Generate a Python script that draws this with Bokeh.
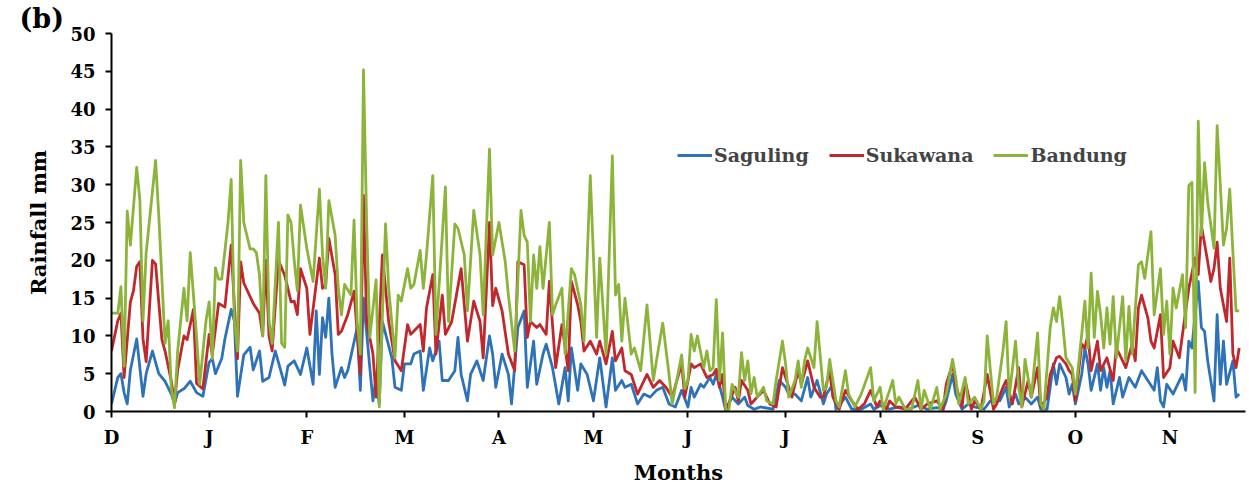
from bokeh.plotting import figure
from bokeh.models import Range1d, Legend, LegendItem, FixedTicker
from bokeh.embed import file_html
from bokeh.resources import INLINE

# ---- data (day index from 1 December, rainfall in mm) ----
bandung_day = [0, 2, 3, 4, 5, 6, 8, 9, 10, 11, 14, 15, 17, 18, 19, 20, 21, 23, 24, 25, 27, 28, 30, 31, 32, 33, 34, 35, 37, 38, 39, 40, 41, 42, 44, 45, 46, 47, 48, 49, 50, 51, 53, 54, 55, 56, 57, 58, 59, 60, 62, 64, 66, 67, 68, 69, 71, 72, 73, 74, 76, 77, 78, 79, 80, 81, 82, 84, 85, 87, 88, 90, 91, 92, 94, 95, 96, 98, 99, 100, 102, 103, 106, 107, 109, 110, 112, 113, 115, 117, 118, 120, 121, 123, 125, 126, 128, 130, 131, 132, 133, 134, 135, 136, 137, 139, 140, 141, 143, 144, 146, 147, 149, 150, 152, 154, 155, 157, 159, 160, 161, 162, 163, 165, 166, 168, 170, 172, 173, 175, 177, 178, 181, 182, 183, 184, 185, 186, 188, 189, 190, 191, 192, 193, 194, 195, 196, 197, 199, 200, 201, 202, 203, 204, 205, 207, 208, 210, 211, 213, 214, 215, 217, 218, 219, 220, 221, 223, 224, 226, 227, 228, 229, 230, 231, 233, 234, 236, 238, 241, 242, 244, 245, 247, 248, 249, 250, 252, 254, 256, 257, 258, 260, 262, 263, 265, 267, 268, 269, 271, 272, 274, 276, 277, 278, 280, 281, 283, 284, 285, 287, 288, 289, 290, 292, 294, 295, 296, 298, 299, 300, 301, 302, 303, 305, 306, 308, 309, 310, 311, 312, 313, 314, 315, 316, 317, 318, 319, 321, 322,
               323, 324, 326, 327, 328, 330, 331, 333, 334, 335, 336, 337, 338, 340, 341, 342, 343, 344, 345, 346, 347, 348, 350, 351, 353, 354, 355, 356, 357, 358]
bandung_mm = [13, 13, 16.5, 6, 26.5, 22, 32.3, 28, 12, 21, 33.2, 26, 9, 12, 3, 0.5, 8, 16.3, 12, 21, 10, 3.6, 12, 14.5, 7, 19, 17.5, 17.5, 25, 30.7, 12, 8, 33.2, 25, 21.5, 21.5, 21, 18, 10, 31.2, 12, 9, 25, 9, 8.5, 26, 25, 20, 16, 27.3, 21.6, 17.2, 29.4, 20.7, 16.3, 27.9, 23.3, 16.3, 12.8, 16.8, 15.4, 25.3, 11.9, 7.6, 45.2, 25, 9.8, 17.4, 0.6, 24.8, 16.3, 7.1, 15.4, 14.6, 18.9, 16.3, 16.8, 21.3, 16.3, 20.7, 31.2, 10.2, 29.7, 11.9, 24.8, 24.2, 20.7, 13.3, 26.6, 20.7, 12.8, 34.7, 20.7, 25, 19.8, 15.4, 8, 26.6, 23.3, 22.4, 11.9, 20.7, 16.3, 21.8, 16.3, 25, 12.8, 14.1, 16.3, 7.6, 18.9, 18.1, 14.1, 9.3, 31.2, 9.8, 20.3, 7.6, 33.8, 15.4, 16.8, 9.3, 15, 7.6, 8.4, 5.4, 14.1, 4.1, 6.7, 11.7, 4.9, 1, 7.5, 3, 4.1, 10.2, 8, 10, 5.8, 8, 5.4, 5.8, 14.8, 4.1, 10.4, 0.1, 0.3, 3.6, 1.9, 7.8, 4.1, 6.7, 2.3, 4.5, 1.9, 3.2, 1.4, 1, 4.1, 9.3, 6.3, 1.9, 4.1, 6.7, 3.2, 6.7, 8.4, 5.8, 11.9, 2.8, 3.2, 6.9, 4.1, 1.4, 0.6, 5.4, 2.3, 0.6, 2.3, 5.8, 1.4, 3.2, 0.3, 2.8, 4.1, 1, 1.9, 0.3, 0.3, 4.1, 0.3, 2.8, 0.3, 3.2, 0.3, 2.3, 6.9, 4.5, 1, 4.5, 1, 1.9, 0.3, 1.4, 10, 1, 1.9, 8, 11.9, 1.9, 9.3, 3.2, 0.6, 6.9, 1.9, 10.4, 1, 0.3, 11.1, 13.7, 11.9, 15.2, 11.5, 7.1, 5.8, 2.3, 10.2, 14.6, 8.4, 18.3, 9.8, 15.9, 12.8, 8.4, 13.7, 8.9, 15.2, 7.1, 15.2, 6.7,
              13.9, 7.6, 19.4, 19.8, 17.6, 23.8, 12.8, 18.9, 10.2, 14.6, 7.6, 16.3, 13.7, 18.1, 11.1, 29.9, 30.3, 2.5, 38.4, 23.3, 32.9, 27.7, 21.6, 37.8, 22, 24.2, 29.4, 21.1, 13.3, 13.3]

sukawana_day = [0, 2, 3, 4, 6, 7, 8, 9, 10, 11, 13, 14, 16, 17, 19, 20, 21, 23, 24, 26, 27, 29, 31, 32, 34, 36, 38, 39, 40, 41, 42, 45, 47, 48, 49, 50, 51, 53, 55, 57, 58, 59, 60, 62, 63, 66, 67, 68, 69, 71, 72, 73, 75, 77, 79, 80, 81, 83, 84, 86, 88, 90, 92, 94, 95, 98, 99, 100, 102, 103, 105, 106, 108, 111, 113, 115, 117, 118, 120, 121, 122, 124, 126, 128, 129, 131, 132, 133, 135, 136, 138, 139, 141, 143, 145, 146, 148, 149, 150, 152, 154, 155, 157, 159, 160, 162, 163, 165, 167, 170, 172, 174, 176, 178, 181, 182, 184, 185, 187, 189, 191, 192, 193, 194, 195, 198, 199, 200, 202, 203, 205, 207, 209, 211, 213, 214, 216, 218, 219, 221, 223, 225, 226, 228, 229, 231, 233, 235, 237, 239, 241, 243, 244, 246, 247, 249, 252, 255, 257, 259, 262, 264, 265, 267, 268, 270, 271, 273, 274, 276, 278, 280, 281, 283, 284, 286, 288, 289, 291, 292, 294, 295, 297, 298, 300, 301, 303, 304, 305, 306, 308, 309, 310, 311, 313, 314, 316, 318, 319, 321, 322,
                324, 325, 326, 327, 329, 330, 331, 333, 334, 336, 337, 339, 340, 342, 344, 345, 346, 348, 349, 350, 351, 352, 354, 355, 356, 357, 358]
sukawana_mm = [8, 12, 13, 4.5, 14.5, 16, 19.2, 19.8, 9.6, 6.6, 20, 19.5, 9.5, 8, 4, 1, 5.5, 10, 9.5, 13.5, 3.7, 3, 10.2, 7.5, 14.3, 13.8, 22, 14, 7, 19.8, 17, 14.3, 13, 10, 20, 10, 8, 20, 18, 14.5, 14.6, 12.8, 18.9, 16.3, 10.2, 20.3, 16.3, 16.8, 22.9, 18.1, 10.2, 10.6, 12.8, 15.9, 4.9, 28.6, 11.9, 7.6, 1.9, 20.7, 11.9, 6.7, 5.4, 11.5, 10.2, 11.5, 8, 13.7, 18.1, 7.6, 15.4, 10.2, 11.9, 18.9, 9.3, 14.6, 11.9, 7.1, 25, 14, 16.3, 13.3, 7.6, 5.4, 19.8, 19.4, 9.8, 11.9, 11.1, 11.5, 10.2, 17.2, 5.8, 11.5, 5.4, 17.2, 14.1, 11.9, 8, 9.3, 7.6, 9.3, 6.3, 10.6, 6.7, 8.4, 5.4, 4.9, 2.3, 4.9, 3.2, 4.1, 3.2, 1.9, 6.3, 1.9, 6.3, 5.8, 6.3, 4.5, 4.9, 5.6, 3.2, 4.9, 0.1, 3.2, 1.4, 4.1, 2.8, 1, 1.9, 2.8, 1, 0.6, 5.8, 4.5, 1.9, 5.4, 3.6, 6.7, 3.2, 1.9, 1.9, 5.4, 1.9, 0.3, 2.8, 1.4, 0.3, 1, 2.8, 0.6, 1.4, 0.3, 1.4, 0.6, 0.3, 1.9, 0.3, 1, 1.4, 0.3, 3.6, 6.3, 3.6, 0.6, 4.1, 0.3, 1.4, 0.3, 4.9, 0.3, 1, 3.2, 4.1, 1, 5.8, 0.6, 4.1, 1.9, 5.8, 0.6, 1.9, 4.9, 7.1, 7.3, 6.3, 5.4, 4.9, 1.4, 8.9, 8.4, 10.2, 5.4, 9.3, 5.4, 7.1, 4.1, 8.4, 6.7, 5.8,
               8.9, 6.7, 13.7, 15.4, 12.4, 9.3, 8.4, 12.8, 4.5, 5.8, 9.3, 7.1, 10.2, 16.3, 20.3, 18.1, 24.6, 19.8, 17.2, 18.9, 22.4, 16.3, 11.9, 20.3, 7.6, 5.8, 8.4]

saguling_day = [0, 2, 3, 4, 5, 6, 8, 10, 11, 13, 15, 17, 19, 20, 21, 23, 25, 27, 29, 31, 32, 33, 35, 36, 38, 39, 40, 42, 44, 45, 47, 48, 50, 52, 54, 55, 56, 58, 60, 62, 64, 65, 66, 67, 68, 69, 70, 71, 73, 74, 75, 78, 79, 80, 82, 83, 84, 85, 86, 89, 90, 92, 93, 95, 96, 98, 99, 101, 102, 104, 105, 107, 109, 110, 111, 113, 114, 116, 118, 120, 121, 122, 124, 126, 127, 129, 131, 132, 134, 135, 137, 138, 140, 142, 144, 145, 146, 148, 149, 151, 153, 155, 157, 159, 160, 162, 163, 165, 167, 169, 171, 173, 175, 177, 179, 181, 183, 184, 185, 187, 188, 190, 191, 192, 194, 195, 197, 199, 201, 202, 204, 206, 210, 212, 214, 215, 217, 219, 221, 222, 224, 226, 227, 229, 230, 233, 235, 238, 241, 242, 244, 247, 250, 253, 256, 259, 262, 264, 265, 267, 268, 270, 272, 274, 277, 279,
                281, 282, 284, 285, 287, 288, 290, 292, 294, 295, 297, 298, 299, 300, 301, 303, 304, 305, 306, 308, 309, 310, 311, 313, 314, 315, 316, 317, 318, 320, 321, 323, 325, 327, 329, 331, 332, 333, 334, 335, 337, 338, 340, 341, 342, 343, 345, 346, 347, 348, 350, 351, 352, 353, 354, 356, 357, 358]
saguling_mm = [1, 4.5, 5, 2.5, 1, 5.5, 9.6, 2, 5, 8, 5, 4, 2.3, 1, 2.5, 3, 4, 2.5, 2, 6.5, 7, 5, 7, 9.6, 13.5, 12, 2, 7.5, 8.5, 5.5, 8, 4, 4.5, 8, 5, 3.5, 6, 6.7, 4.9, 8.4, 3.6, 13.3, 4.9, 12.4, 9.8, 15, 7.6, 3.2, 5.8, 4.5, 5.4, 11.1, 2.8, 15, 5.8, 1.4, 4.5, 1, 11.9, 7.1, 3.2, 2.8, 6.3, 6.3, 7.6, 8, 2.8, 8.4, 6.7, 9.3, 4.1, 4.1, 5.4, 9.8, 4.9, 1.4, 4.9, 6.7, 4.1, 10, 7.6, 3.2, 7.6, 4.9, 1, 11.1, 13.3, 3.2, 9.3, 3.6, 7.6, 8.9, 5.8, 1, 5.8, 1.4, 8.4, 2.8, 6.3, 4.9, 1.4, 7.1, 0.6, 7.1, 2.8, 4.1, 3.2, 3.6, 1, 2.3, 1.9, 2.8, 3.2, 1, 0.6, 2.8, 0.6, 3.2, 1.9, 3.6, 3.2, 4.5, 3.6, 4.9, 1.9, 0.1, 1.9, 1, 1.9, 0.8, 0.3, 0.6, 0.3, 4.1, 3.2, 2.3, 2.3, 1.4, 4.5, 1.9, 4.1, 1, 2.3, 3.6, 0.3, 1.9, 0.3, 0.3, 1, 0.3, 0.8, 0.3, 0.6, 0.3, 0.8, 0.3, 0.5, 0.3, 1.4, 4.9, 2.3, 0.3, 1, 0.6, 0.3, 1.4,
               1.4, 1.4, 3.2, 0.6, 2.3, 1, 1.9, 1, 1.9, 0.3, 0.3, 3.2, 6.3, 3.6, 6.3, 4.5, 2.3, 3.6, 1, 4.9, 8.4, 6.3, 2.8, 6.3, 2.8, 5.8, 3.2, 5.4, 1, 4.5, 1.9, 4.5, 3.2, 5.4, 4.1, 2.8, 5.8, 1.4, 0.6, 3.6, 2.3, 3.2, 4.9, 2.8, 9.3, 8.4, 17.2, 11.1, 10.6, 6.7, 1.4, 12.8, 3.6, 9.3, 3.6, 6.7, 1.9, 2.3]

month_ticks = [0, 31, 62, 93, 123, 153, 183, 214, 244, 275, 306, 336]
month_labels = ["D", "J", "F", "M", "A", "M", "J", "J", "A", "S", "O", "N"]
y_ticks = [0, 5, 10, 15, 20, 25, 30, 35, 40, 45, 50]

series_names = ["Saguling", "Sukawana", "Bandung"]
series_colors = ["#2E72B8", "#C0282E", "#8CB43A"]

FONT = "DejaVu Serif"

p = figure(width=1249, height=489, output_backend="svg", toolbar_location=None,
           x_range=Range1d(0, 360), y_range=Range1d(0, 50),
           min_border_left=111, min_border_right=4, min_border_top=30,
           min_border_bottom=78, background_fill_color="white",
           title="(b)")
p.outline_line_color = None
p.xgrid.grid_line_color = None
p.ygrid.grid_line_color = None

p.title.text_font = FONT
p.title.text_font_style = "bold"
p.title.text_font_size = "27px"
p.title.text_color = "black"
p.title.align = "left"
p.title.offset = -92
p.title.standoff = 0

renderers = []
for days, vals, col in [(saguling_day, saguling_mm, series_colors[0]),
                        (sukawana_day, sukawana_mm, series_colors[1]),
                        (bandung_day, bandung_mm, series_colors[2])]:
    r = p.line(days, vals, line_color=col, line_width=2.8, line_join="round")
    renderers.append(r)

for ax in (p.xaxis[0], p.yaxis[0]):
    ax.axis_line_color = "black"
    ax.axis_line_width = 2
    ax.major_tick_line_color = "black"
    ax.major_tick_line_width = 2
    ax.major_tick_out = 6
    ax.major_tick_in = 0
    ax.minor_tick_line_color = None
    ax.major_label_text_font = FONT
    ax.major_label_text_font_style = "bold"
    ax.major_label_text_font_size = "18px"
    ax.major_label_text_color = "black"
    ax.axis_label_text_font = FONT
    ax.axis_label_text_font_style = "bold"
    ax.axis_label_text_font_size = "21px"
    ax.axis_label_text_color = "black"

p.xaxis.ticker = FixedTicker(ticks=month_ticks)
p.xaxis.major_label_overrides = {t: l for t, l in zip(month_ticks, month_labels)}
p.xaxis.major_label_standoff = 9
p.xaxis.axis_label = "Months"
p.xaxis.axis_label_standoff = 9

p.yaxis.ticker = FixedTicker(ticks=y_ticks)
p.yaxis.major_label_standoff = 10
p.yaxis.axis_label = "Rainfall mm"
p.yaxis.axis_label_standoff = 16

legend = Legend(items=[LegendItem(label=n, renderers=[r]) for n, r in zip(series_names, renderers)],
                orientation="horizontal", location=(566, 245),
                border_line_color=None, background_fill_alpha=0,
                label_text_font=FONT, label_text_font_style="bold",
                label_text_font_size="19px", glyph_width=35, glyph_height=20,
                label_standoff=2, spacing=20, padding=0, margin=0)
p.add_layout(legend)

open("out.html", "w").write(file_html(p, INLINE))
